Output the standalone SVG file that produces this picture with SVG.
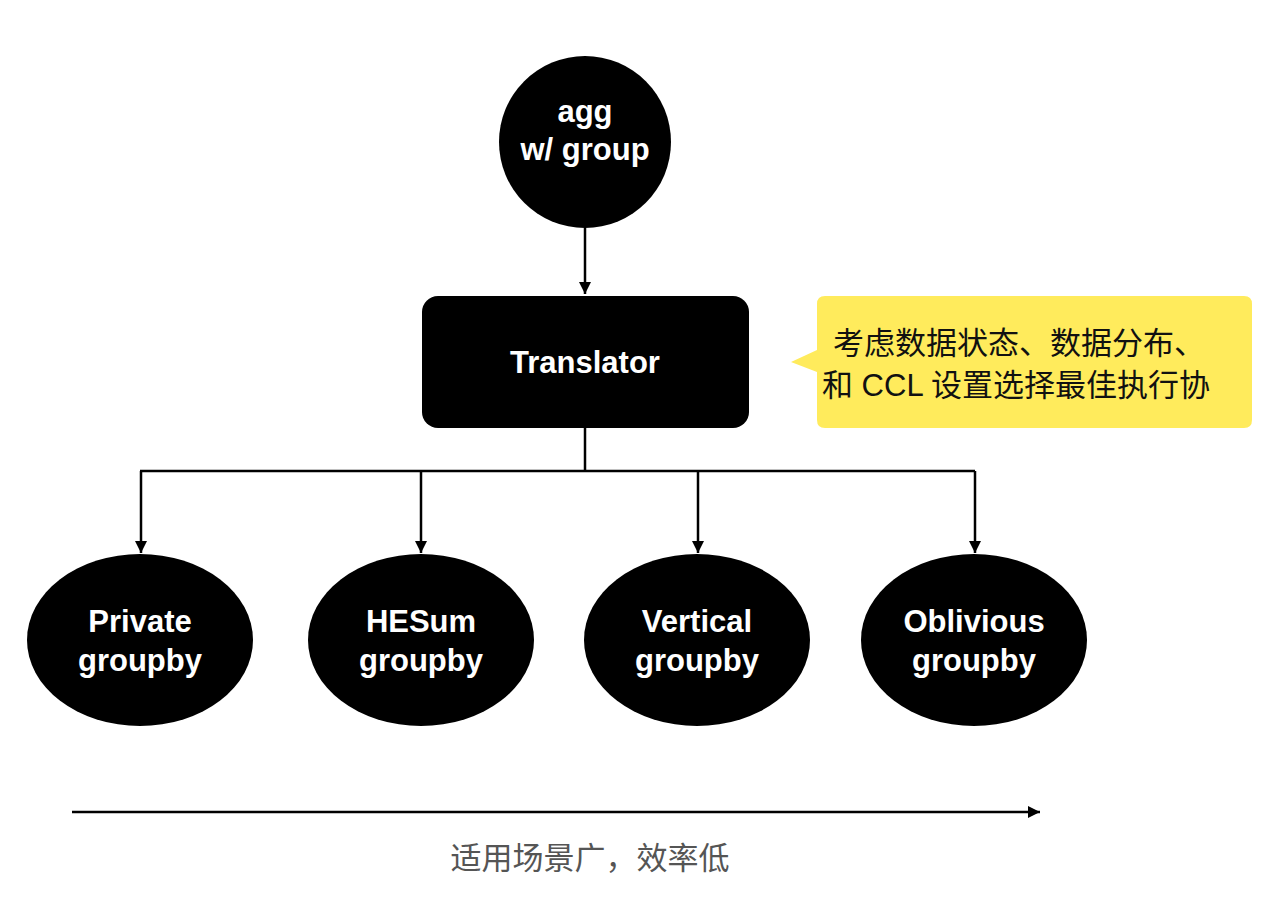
<svg xmlns="http://www.w3.org/2000/svg" width="1280" height="916" viewBox="0 0 1280 916">
<style>
.node{fill:#000}
.lbl{fill:#fff;font-family:"Liberation Sans","Noto Sans",Arial,sans-serif;font-weight:bold;font-size:31px;text-anchor:middle}
.edge{stroke:#000;stroke-width:2.5;fill:none}
.cn{font-family:"Liberation Sans","Noto Sans CJK SC",sans-serif;font-size:31px}
</style>
<defs>
<marker id="ah" viewBox="0 0 10 10" refX="10" refY="5" markerWidth="5" markerHeight="5" markerUnits="strokeWidth" orient="auto">
<path d="M0,0 L10,5 L0,10 z" fill="#000"/>
</marker>
</defs>
<rect width="1280" height="916" fill="#fff"/>
<g id="connectors">
<path class="edge" d="M585,228 V294" marker-end="url(#ah)"/>
<path class="edge" d="M585,428 V471"/>
<path class="edge" d="M140,471 H975"/>
<path class="edge" d="M141,471 V553" marker-end="url(#ah)"/>
<path class="edge" d="M421,471 V553" marker-end="url(#ah)"/>
<path class="edge" d="M698,471 V553" marker-end="url(#ah)"/>
<path class="edge" d="M975,471 V553" marker-end="url(#ah)"/>
<path class="edge" d="M72,812 H1040" marker-end="url(#ah)"/>
</g>
<g id="agg">
<circle class="node" cx="585" cy="142" r="86"/>
<text class="lbl" x="585" y="122">agg</text>
<text class="lbl" x="585" y="160">w/ group</text>
</g>
<g id="translator">
<rect class="node" x="422" y="296" width="327" height="132" rx="16"/>
<text class="lbl" x="585" y="373">Translator</text>
</g>
<g id="private">
<ellipse class="node" cx="140" cy="640" rx="113" ry="86"/>
<text class="lbl" x="140" y="632">Private</text>
<text class="lbl" x="140" y="671">groupby</text>
</g>
<g id="hesum">
<ellipse class="node" cx="421" cy="640" rx="113" ry="86"/>
<text class="lbl" x="421" y="632">HESum</text>
<text class="lbl" x="421" y="671">groupby</text>
</g>
<g id="vertical">
<ellipse class="node" cx="697" cy="640" rx="113" ry="86"/>
<text class="lbl" x="697" y="632">Vertical</text>
<text class="lbl" x="697" y="671">groupby</text>
</g>
<g id="oblivious">
<ellipse class="node" cx="974" cy="640" rx="113" ry="86"/>
<text class="lbl" x="974" y="632">Oblivious</text>
<text class="lbl" x="974" y="671">groupby</text>
</g>
<g id="callout">
<path d="M825,296 H1244 Q1252,296 1252,304 V420 Q1252,428 1244,428 H825 Q817,428 817,420 V372 L791,362 L817,350 V304 Q817,296 825,296 Z" fill="#FFEB5C"/>
<text class="cn" x="833" y="354" fill="#111">考虑数据状态、数据分布、</text>
<text class="cn" x="822" y="396" fill="#111">和 CCL 设置选择最佳执行协</text>
</g>
<g id="axis-label">
<text class="cn" x="590" y="869" fill="#555" text-anchor="middle">适用场景广，效率低</text>
</g>
</svg>
